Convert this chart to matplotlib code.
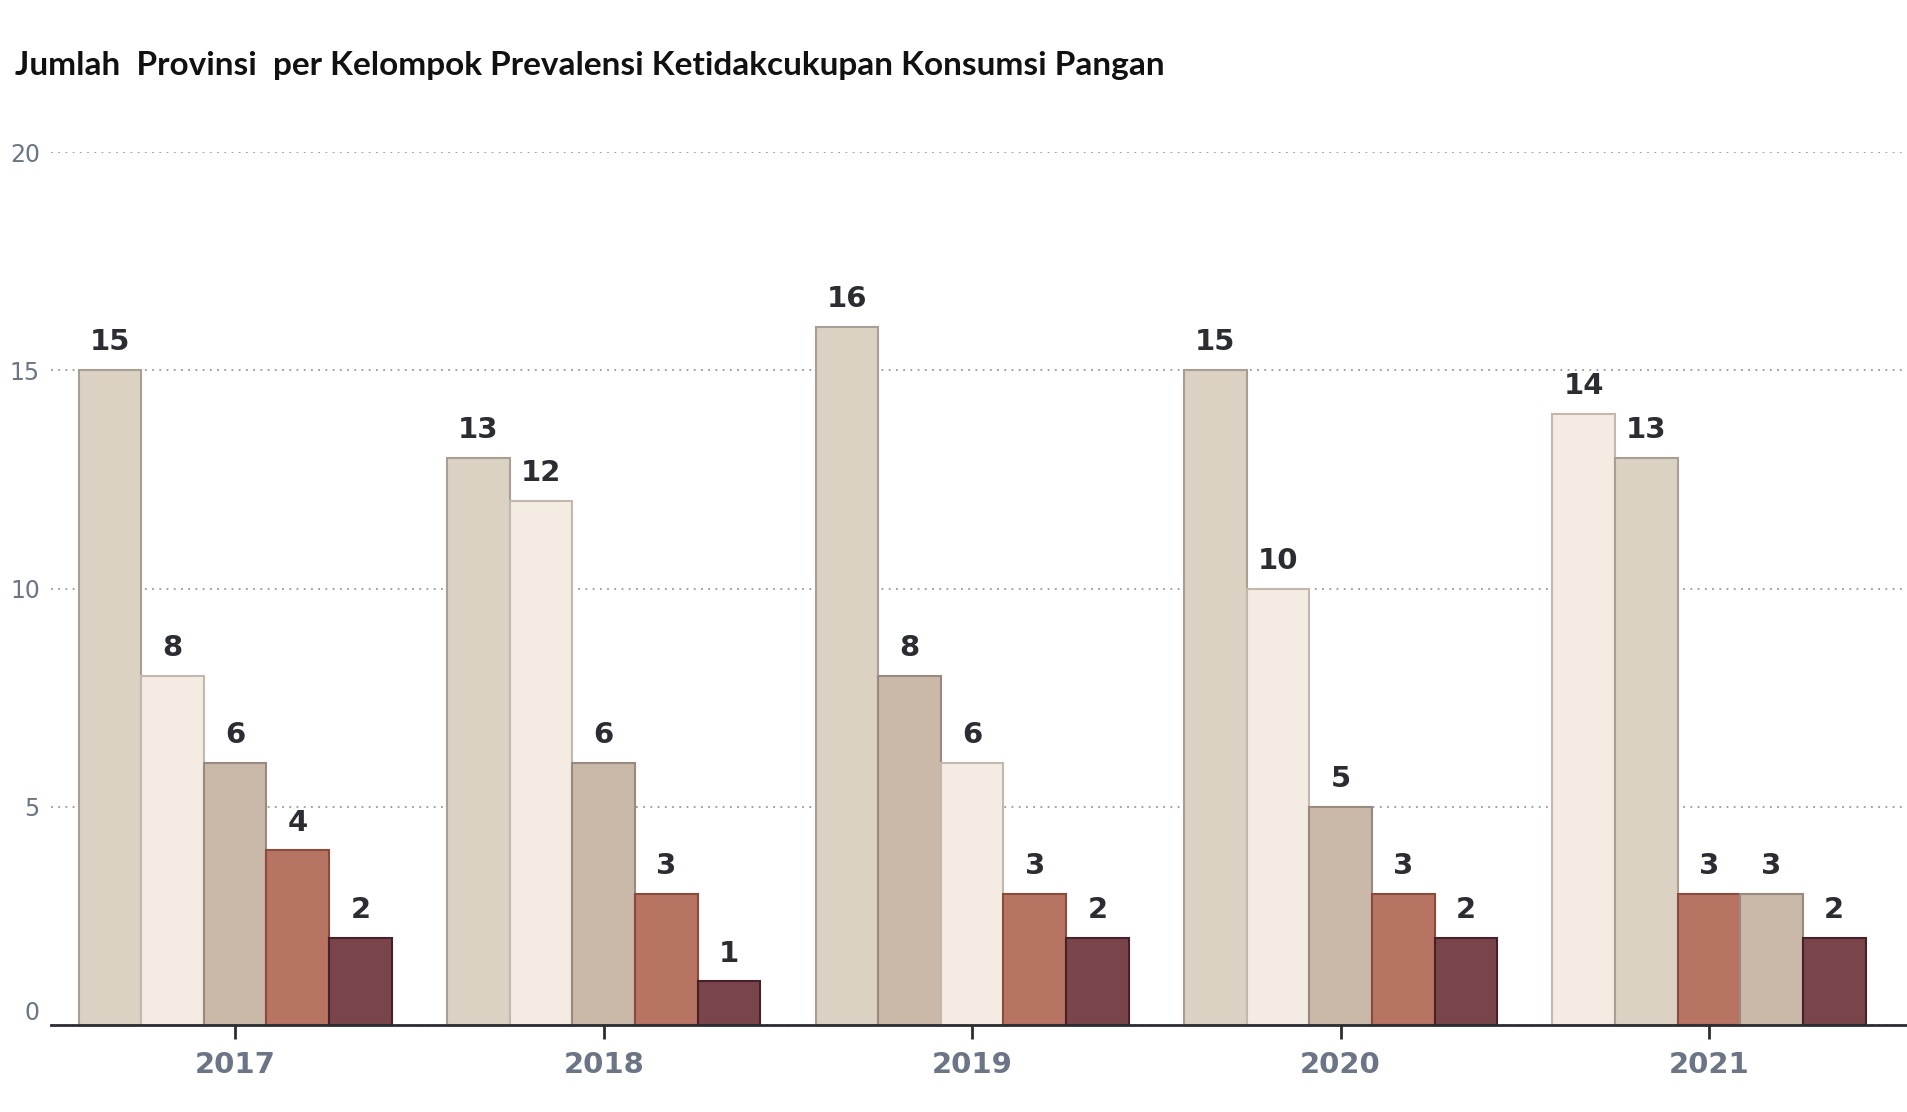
import numpy as np
import matplotlib
matplotlib.use("Agg")
import matplotlib.pyplot as plt

# data: number of provinces per prevalence group, per year
years = ["2017", "2018", "2019", "2020", "2021"]
groups = ["Kelompok A", "Kelompok B", "Kelompok C", "Kelompok D", "Kelompok E"]
group_a = [15, 13, 16, 15, 13]
group_b = [8, 12, 6, 10, 14]
group_c = [6, 6, 8, 5, 3]
group_d = [4, 3, 3, 3, 3]
group_e = [2, 1, 2, 2, 2]

# within-year bar order as drawn (sorted by value, ties as in source)
order_2021 = ["Kelompok B", "Kelompok A", "Kelompok D", "Kelompok C", "Kelompok E"]

fill = {
    "Kelompok A": "#dcd2c3",
    "Kelompok B": "#f4ebe2",
    "Kelompok C": "#cab8a9",
    "Kelompok D": "#b87462",
    "Kelompok E": "#7a444b",
}
edge = {
    "Kelompok A": "#a89e92",
    "Kelompok B": "#c2b8ae",
    "Kelompok C": "#988a7e",
    "Kelompok D": "#8a4a3e",
    "Kelompok E": "#45222a",
}

series = dict(zip(groups, [group_a, group_b, group_c, group_d, group_e]))

fig = plt.figure(figsize=(19.08, 11.12), dpi=100)
ax = fig.add_axes([0.0267, 0.0782, 0.9733, 0.7851])

bar_w = 0.17
x = np.arange(len(years))
for i, yr in enumerate(years):
    vals = [(g, series[g][i]) for g in groups]
    if yr == "2021":
        vals = [(g, series[g][i]) for g in order_2021]
    else:
        vals = sorted(vals, key=lambda t: -t[1])
    for j, (g, v) in enumerate(vals):
        xpos = x[i] + (j - 2) * bar_w
        ax.bar(xpos, v, width=bar_w, color=fill[g], edgecolor=edge[g], linewidth=1.5, zorder=3)
        ax.annotate(str(v), (xpos, v), xytext=(0, 10), textcoords="offset points",
                    ha="center", va="bottom", fontsize=21, fontweight="bold",
                    color="#2b2d33", family="DejaVu Sans")

ax.set_xlim(-0.5, 4.54)
ax.set_ylim(0, 20)
ax.set_yticks([0, 5, 10, 15, 20])
ax.yaxis.grid(True, linestyle=(0, (1, 3)), color="#999999", linewidth=1.3, zorder=0)
ax.tick_params(axis="y", length=0, pad=8, labelsize=17, labelcolor="#6b7585")
for lab in ax.get_yticklabels():
    lab.set_fontfamily("DejaVu Sans")
ax.get_yticklabels()[0].set_verticalalignment("bottom")

ax.set_xticks(x)
ax.set_xticklabels(years)
ax.tick_params(axis="x", length=10, width=2, color="#2b2d33", pad=9,
               labelsize=21, labelcolor="#6b7585")
for lab in ax.get_xticklabels():
    lab.set_fontweight("bold")
    lab.set_fontfamily("DejaVu Sans")

for s in ["top", "right", "left"]:
    ax.spines[s].set_visible(False)
ax.spines["bottom"].set_color("#2b2d33")
ax.spines["bottom"].set_linewidth(2)
ax.spines["bottom"].set_zorder(4)

fig.text(0.008, 0.9325, "Jumlah  Provinsi  per Kelompok Prevalensi Ketidakcukupan Konsumsi Pangan",
         fontsize=24, fontweight="bold", family="Lato", color="#111111", va="baseline")

fig.savefig("out.png", dpi=100)
